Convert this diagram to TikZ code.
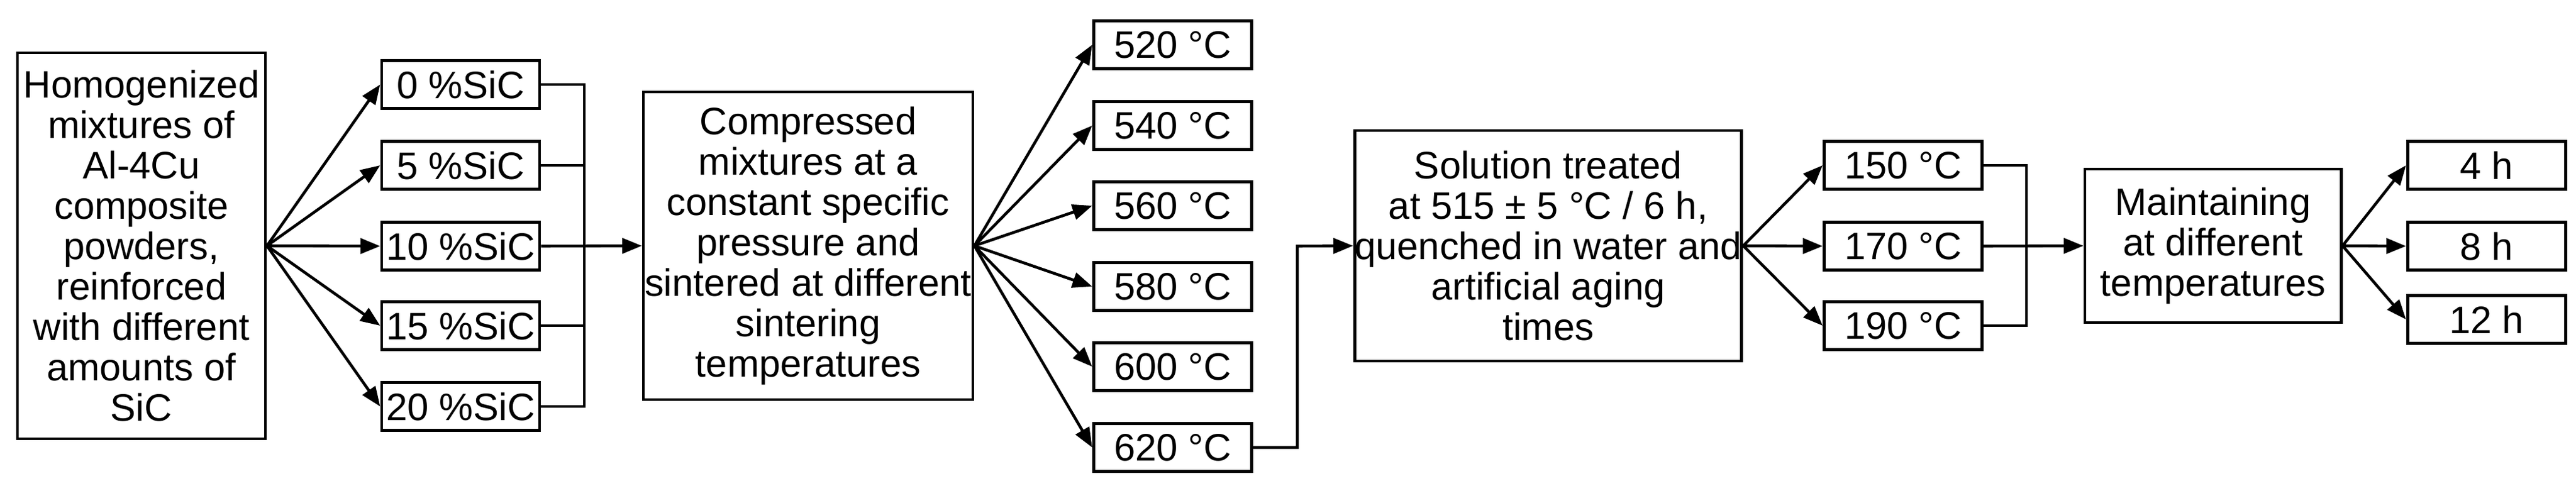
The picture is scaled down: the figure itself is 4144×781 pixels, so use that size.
\documentclass[tikz,border=0pt]{standalone}
\usepackage{fontspec}
\setmainfont{Liberation Sans}
\usetikzlibrary{arrows.meta}
\begin{document}
\begin{tikzpicture}[x=0.01cm,y=-0.01cm,
  box/.style={draw,line width=1.4pt,align=center,inner sep=0pt,font=\fontsize{17.5}{18.5}\selectfont},
  sm/.style={box,minimum width=254*0.01cm,minimum height=77*0.01cm},
  arr/.style={line width=1.3pt,-{Triangle[length=9pt,width=7pt]}},
  ln/.style={line width=1.3pt}]
\useasboundingbox[fill=white] (0,0) rectangle (4144,781);
\node[box,minimum width=399*0.01cm,minimum height=621*0.01cm] (A) at (227.5,395.5) {Homogenized\\mixtures of\\Al-4Cu\\composite\\powders,\\reinforced\\with different\\amounts of\\SiC};
\node[sm] (s0) at (741,136) {0 \%SiC};
\node[sm] (s1) at (741,266) {5 \%SiC};
\node[sm] (s2) at (741,396) {10 \%SiC};
\node[sm] (s3) at (741,524) {15 \%SiC};
\node[sm] (s4) at (741,654) {20 \%SiC};
\coordinate (j1) at (940,396);
\node[box,minimum width=530*0.01cm,minimum height=495*0.01cm] (B) at (1300,395.5) {Compressed\\mixtures at a\\constant specific\\pressure and\\sintered at different\\sintering\\temperatures};
\node[sm] (t1) at (1886.5,72) {520 °C};
\node[sm] (t2) at (1886.5,202) {540 °C};
\node[sm] (t3) at (1886.5,331) {560 °C};
\node[sm] (t4) at (1886.5,461) {580 °C};
\node[sm] (t5) at (1886.5,590) {600 °C};
\node[sm] (t6) at (1886.5,720) {620 °C};
\coordinate (k) at (2087,396);
\node[box,minimum width=619*0.01cm,minimum height=371*0.01cm] (C) at (2490.5,395.5) {Solution treated\\at 515 ± 5 °C / 6 h,\\quenched in water and\\artificial aging\\times};
\node[sm] (a1) at (3061.5,266) {150 °C};
\node[sm] (a2) at (3061.5,396) {170 °C};
\node[sm] (a3) at (3061.5,524) {190 °C};
\coordinate (j2) at (3260,396);
\node[box,minimum width=412*0.01cm,minimum height=247*0.01cm] (D) at (3560,395.5) {Maintaining\\at different\\temperatures};
\node[sm] (h1) at (4000,266) {4 h};
\node[sm] (h2) at (4000,396) {8 h};
\node[sm] (h3) at (4000,514) {12 h};
\foreach \n in {s0,s1,s2,s3,s4} \draw[arr] (A.east) -- (\n.west);
\draw[ln] (s0.east) -- (s0.east -| j1) -- (s4.east -| j1) -- (s4.east);
\draw[ln] (s1.east) -- (s1.east -| j1);
\draw[ln] (s3.east) -- (s3.east -| j1);
\draw[arr] (s2.east) -- (B.west);
\foreach \n in {t1,t2,t3,t4,t5,t6} \draw[arr] (B.east) -- (\n.west);
\draw[arr] (t6.east) -| (k) -- (C.west);
\foreach \n in {a1,a2,a3} \draw[arr] (C.east) -- (\n.west);
\draw[ln] (a1.east) -- (a1.east -| j2) -- (a3.east -| j2) -- (a3.east);
\draw[arr] (a2.east) -- (D.west);
\foreach \n in {h1,h2,h3} \draw[arr] (D.east) -- (\n.west);
\end{tikzpicture}
\end{document}
